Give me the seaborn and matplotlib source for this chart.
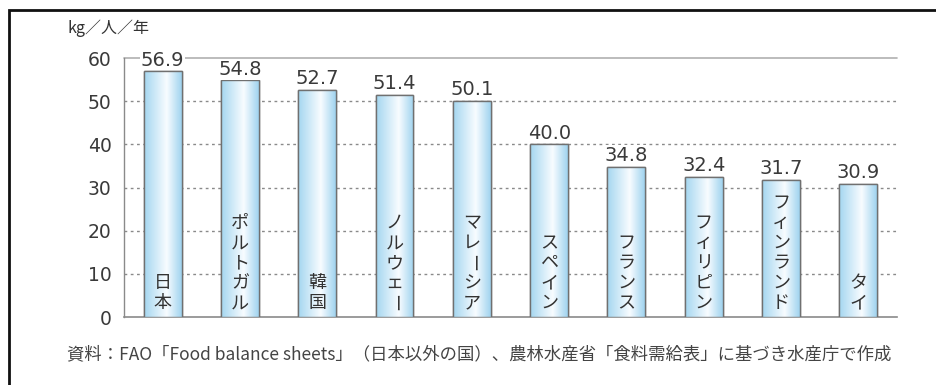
import numpy as np
import pandas as pd
import matplotlib
matplotlib.use("Agg")
import matplotlib.pyplot as plt
from matplotlib.colors import LinearSegmentedColormap
from matplotlib.patches import Rectangle
import seaborn as sns

countries = ["日本", "ポルトガル", "韓国", "ノルウェー", "マレーシア",
             "スペイン", "フランス", "フィリピン", "フィンランド", "タイ"]
values = [56.9, 54.8, 52.7, 51.4, 50.1, 40.0, 34.8, 32.4, 31.7, 30.9]
yticks = [0, 10, 20, 30, 40, 50, 60]
unit_label = "kg／人／年"
source_note = "資料：FAO「Food balance sheets」（日本以外の国）、農林水産省「食料需給表」に基づき水産庁で作成"

sns.set_theme(style="white")
plt.rcParams["font.family"] = ["Noto Sans CJK JP", "DejaVu Sans"]

df = pd.DataFrame({"country": countries, "value": values})

fig = plt.figure(figsize=(9.37, 3.85), dpi=100)
ax = fig.add_axes([0.1323, 0.1766, 0.825, 0.6727])

sns.barplot(data=df, x="country", y="value", ax=ax, width=0.49,
            color="#b7e0f5", edgecolor="#707070", linewidth=1.0, zorder=3)

num_font = ["DejaVu Sans"]

ax.set_xlim(-0.5, len(countries) - 0.5)
ax.set_ylim(0, 60)
ax.set_yticks(yticks)
ax.set_yticklabels([str(t) for t in yticks], fontsize=13.5, color="#3a3a3a",
                   family=num_font)
ax.tick_params(axis="y", length=0, pad=9)
ax.set_xticks([])
ax.set_xlabel("")
ax.set_ylabel("")

# gridlines: dotted for inner levels, solid at the top
for t in yticks[1:-1]:
    ax.axhline(t, color="#8a8a8a", linestyle=(0, (2, 2.5)), linewidth=1.0, zorder=1)
ax.axhline(60, color="#b0b0b0", linewidth=1.2, zorder=1, clip_on=False)

for side in ["top", "right"]:
    ax.spines[side].set_visible(False)
ax.spines["left"].set_color("#8a8a8a")
ax.spines["bottom"].set_color("#8a8a8a")
ax.spines["left"].set_linewidth(1.0)
ax.spines["bottom"].set_linewidth(1.2)

# horizontal gradient fill inside each bar
grad_cmap = LinearSegmentedColormap.from_list(
    "barfill", [(0.0, "#a4d6f0"), (0.6, "#f8fcff"), (1.0, "#9fd3ef")])
grad = np.linspace(0, 1, 256).reshape(1, -1)
for patch in ax.patches:
    x0, y0 = patch.get_x(), patch.get_y()
    w, h = patch.get_width(), patch.get_height()
    im = ax.imshow(grad, cmap=grad_cmap, aspect="auto",
                   extent=[x0, x0 + w, y0, y0 + h], zorder=3.5)
    im.set_clip_path(patch)
    ax.add_patch(Rectangle((x0, y0), w, h, fill=False,
                           edgecolor="#707070", linewidth=1.0, zorder=4))

ax.set_xlim(-0.5, len(countries) - 0.5)
ax.set_ylim(0, 60)

# value labels above bars
for i, v in enumerate(values):
    ax.text(i, v + 0.4, f"{v:.1f}", ha="center", va="bottom", fontsize=14,
            color="#3a3a3a", family=num_font, zorder=5,
            bbox=dict(facecolor="white", edgecolor="none", pad=0.5))

# country names written vertically inside the bars, one character per row
step_pt = 14.4
base_pt = 10.0
for i, name in enumerate(countries):
    n = len(name)
    for k, ch in enumerate(name):
        ax.annotate(ch, xy=(i, 0), xytext=(0, base_pt + (n - 1 - k) * step_pt),
                    textcoords="offset points", ha="center", va="center",
                    fontsize=13, color="#333333", zorder=6,
                    rotation=-90 if ch == "ー" else 0)

fig.text(68 / 937, 1 - 28 / 385, unit_label, ha="left", va="center",
         fontsize=11.5, color="#333333")
fig.text(67 / 937, 1 - 354 / 385, source_note, ha="left", va="center",
         fontsize=12.5, color="#444444")

# outer frame (top and left edges visible)
fig.add_artist(Rectangle((9 / 937, -0.2), 1.2, 1.2 - 10 / 385,
                         transform=fig.transFigure, fill=False,
                         edgecolor="#111111", linewidth=2.0))

fig.savefig("out.png", dpi=100)
